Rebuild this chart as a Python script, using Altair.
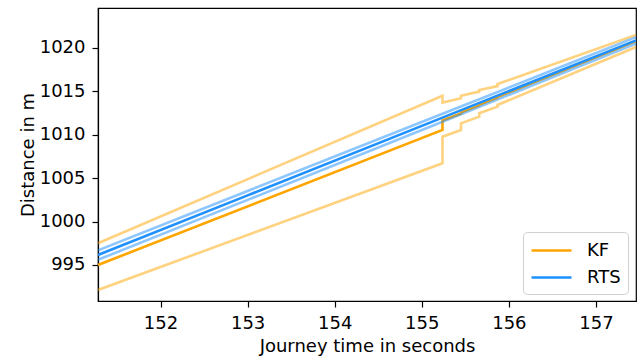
import altair as alt
import pandas as pd

# ---- data ----
kf_t = [151.282, 155.238, 155.238, 155.45, 155.45, 155.66, 155.66, 155.87, 155.87, 157.46]
kf_mean = [995.00, 1010.55, 1011.65, 1012.45, 1012.55, 1013.38, 1013.45, 1014.28, 1014.35, 1020.80]
kf_upper = [997.50, 1014.50, 1013.70, 1014.20, 1014.50, 1014.97, 1015.16, 1015.60, 1015.85, 1021.50]
kf_lower = [992.12, 1006.72, 1009.78, 1010.55, 1011.32, 1012.09, 1012.48, 1013.24, 1013.43, 1020.10]

rts_t = [151.282, 153.0, 155.238, 156.5, 157.46]
rts_mean = [996.15, 1003.02, 1011.97, 1017.02, 1020.86]
rts_upper = [996.68, 1003.52, 1012.42, 1017.42, 1021.24]
rts_lower = [995.60, 1002.50, 1011.50, 1016.62, 1020.50]

x_ticks = [152, 153, 154, 155, 156, 157]
y_ticks = [995, 1000, 1005, 1010, 1015, 1020]
x_dom = [151.282, 157.46]
y_dom = [990.85, 1024.6]

rows = []
for band, vals in [("mean", kf_mean), ("upper", kf_upper), ("lower", kf_lower)]:
    for i, (t, v) in enumerate(zip(kf_t, vals)):
        rows.append({"series": "KF", "band": band, "t": t, "v": v, "i": i})
for band, vals in [("mean", rts_mean), ("upper", rts_upper), ("lower", rts_lower)]:
    for i, (t, v) in enumerate(zip(rts_t, vals)):
        rows.append({"series": "RTS", "band": band, "t": t, "v": v, "i": i})
df = pd.DataFrame(rows)

ORANGE = "#FFA500"
BLUE = "#1E90FF"
LW = 2.6

x_enc = alt.X("t:Q", scale=alt.Scale(domain=x_dom, nice=False, zero=False),
              axis=alt.Axis(values=x_ticks, format="d", title="Journey time in seconds",
                            titlePadding=5))
y_enc = alt.Y("v:Q", scale=alt.Scale(domain=y_dom, nice=False, zero=False),
              axis=alt.Axis(values=y_ticks, format="d", title="Distance in m",
                            titlePadding=2))

base = alt.Chart(df)

kf_bounds = base.transform_filter(
    (alt.datum.series == "KF") & (alt.datum.band != "mean")
).mark_line(color=ORANGE, opacity=0.5, strokeWidth=LW, clip=True).encode(
    x=x_enc, y=y_enc, detail="band:N", order="i:Q")

color_enc = alt.Color("series:N", scale=alt.Scale(domain=["KF", "RTS"], range=[ORANGE, BLUE]),
                      legend=alt.Legend(title=None, orient="none", legendX=425, legendY=224,
                                        symbolType="M-1,0L3,0", symbolSize=400,
                                        symbolStrokeWidth=LW,
                                        labelFontSize=18, labelFont="DejaVu Sans", labelColor="black",
                                        strokeColor="#d0d0d0", fillColor="white",
                                        cornerRadius=4, padding=7, rowPadding=6,
                                        labelOffset=34))

kf_mean_l = base.transform_filter(
    (alt.datum.series == "KF") & (alt.datum.band == "mean")
).mark_line(strokeWidth=LW, clip=True).encode(x=x_enc, y=y_enc, color=color_enc, order="i:Q")

rts_mean_l = base.transform_filter(
    (alt.datum.series == "RTS") & (alt.datum.band == "mean")
).mark_line(strokeWidth=LW, clip=True).encode(x=x_enc, y=y_enc, color=color_enc, order="i:Q")

rts_bounds = base.transform_filter(
    (alt.datum.series == "RTS") & (alt.datum.band != "mean")
).mark_line(color=BLUE, opacity=0.5, strokeWidth=LW, clip=True).encode(
    x=x_enc, y=y_enc, detail="band:N", order="i:Q")

chart = alt.layer(kf_bounds, kf_mean_l, rts_mean_l, rts_bounds).properties(
    width=538, height=293,
    autosize=alt.AutoSizeParams(type="none"),
    padding={"left": 98, "top": 8, "right": 3, "bottom": 57},
).configure_view(
    stroke="black", strokeWidth=1.2
).configure_axis(
    labelFont="DejaVu Sans", titleFont="DejaVu Sans", labelFontSize=18, titleFontSize=18,
    titleFontWeight="normal", labelColor="black", titleColor="black",
    tickColor="black", domainColor="black", tickSize=6, tickWidth=1.2, domainWidth=1.2,
    labelPadding=7, grid=False,
)

chart.save("out.html", embed_options={"renderer": "svg", "actions": False})
